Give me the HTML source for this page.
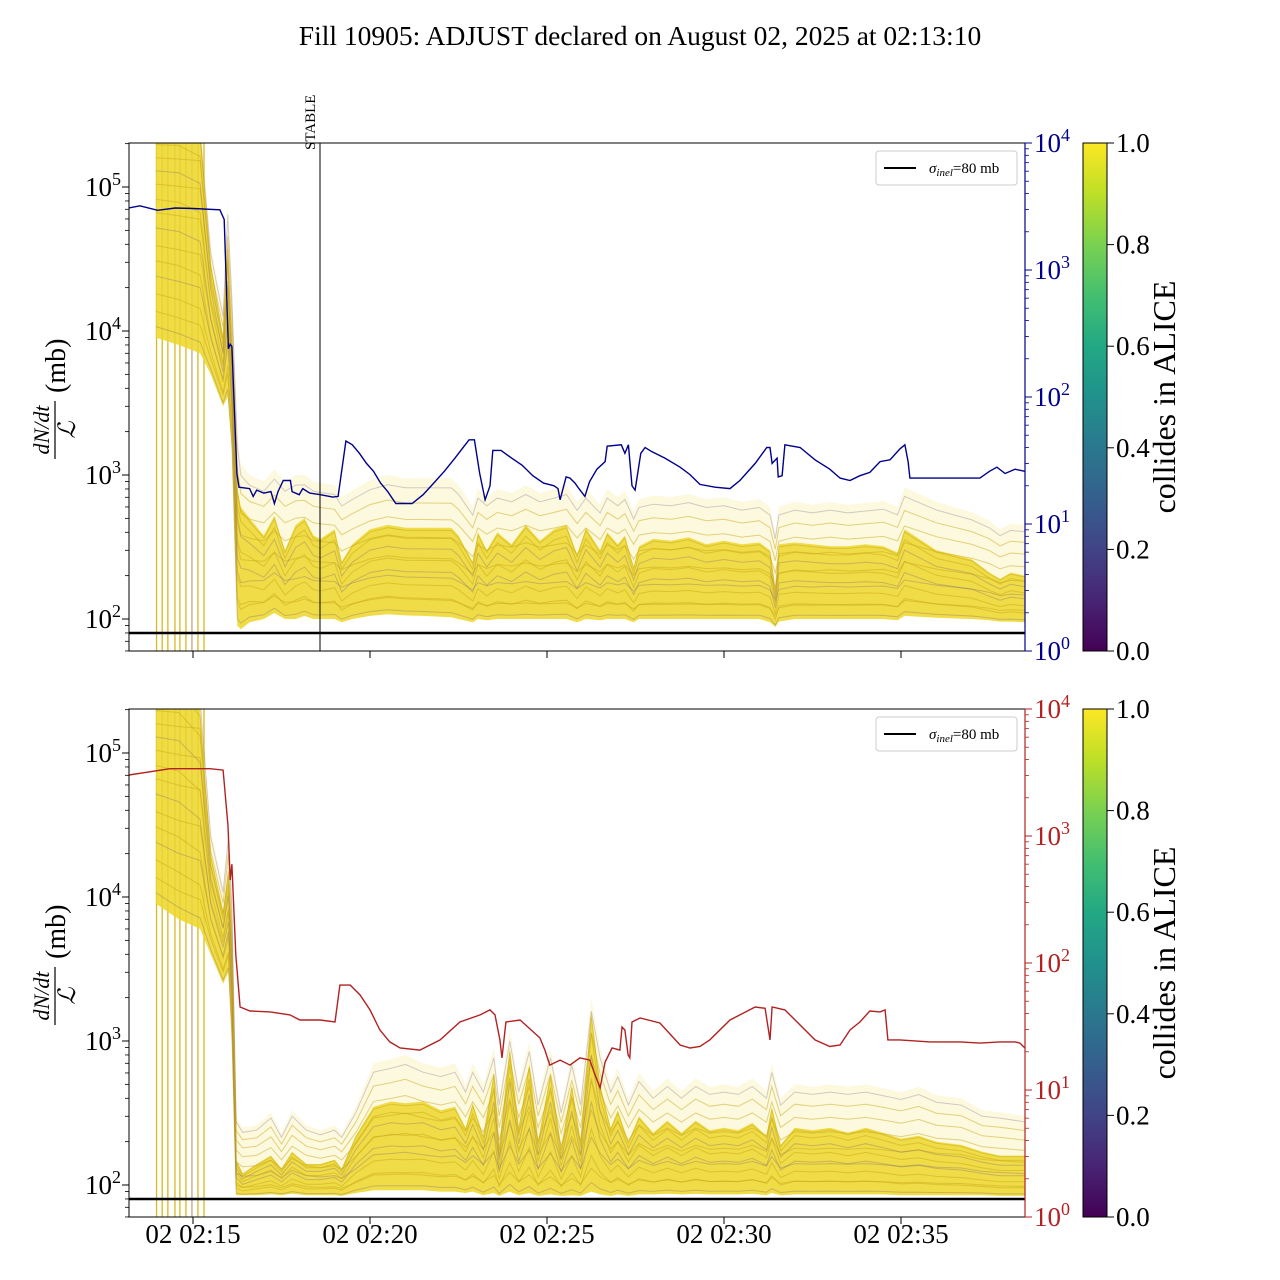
<!DOCTYPE html>
<html><head><meta charset="utf-8"><style>
body{margin:0;background:#fff}
svg{display:block;font-family:"Liberation Serif","DejaVu Serif",serif}
</style></head><body>
<svg id="chart" width="1280" height="1280" viewBox="0 0 1280 1280" xmlns="http://www.w3.org/2000/svg">
<defs>
<linearGradient id="viridis" x1="0" y1="1" x2="0" y2="0">
<stop offset="0" stop-color="#440154"/><stop offset="0.1" stop-color="#482475"/><stop offset="0.2" stop-color="#414487"/><stop offset="0.3" stop-color="#355f8d"/><stop offset="0.4" stop-color="#2a788e"/><stop offset="0.5" stop-color="#21918c"/><stop offset="0.6" stop-color="#22a884"/><stop offset="0.7" stop-color="#44bf70"/><stop offset="0.8" stop-color="#7ad151"/><stop offset="0.9" stop-color="#bddf26"/><stop offset="1" stop-color="#fde725"/>
</linearGradient>
<clipPath id="clipTop"><rect x="129" y="143" width="896" height="508"/></clipPath>
<clipPath id="clipBot"><rect x="129" y="709" width="896" height="508"/></clipPath>
</defs>
<text x="640" y="45" font-size="27.5" text-anchor="middle">Fill 10905: ADJUST declared on August 02, 2025 at 02:13:10</text>
<g id="layer"></g>
</svg>
<script>
// ---- data: times in minutes after 02:00 ----
const startTimes = [13.97,14.13,14.29,14.49,14.63,14.80,14.97,15.14,15.31];
// top panel bundle envelopes (mb)
const topT = [13.95,14.6,15.2,15.5,15.85,15.98,16.1,16.25,16.35,16.6,17.0,17.3,17.6,17.9,18.15,18.4,18.6,19.0,19.2,19.5,20.0,20.5,21.0,21.5,22.3,22.5,22.9,23.05,23.3,23.6,24.0,24.4,24.8,25.2,25.55,25.85,26.1,26.5,26.7,27.0,27.2,27.45,27.6,28.0,28.5,29.0,29.5,30.0,30.5,31.0,31.3,31.45,31.55,32.0,32.5,33.0,33.5,34.0,34.5,34.9,35.1,36.0,37.0,37.5,37.8,38.1,38.5];
const topOuter = [3e5,3e5,3e5,40000,14000,80000,20000,2000,1200,1000,900,1100,900,1000,1000,900,880,850,700,780,920,1000,950,950,950,850,600,800,700,800,750,850,750,800,850,650,800,620,800,700,780,560,680,720,700,740,680,700,650,680,600,400,600,650,620,650,620,640,660,600,820,650,550,480,420,460,450];
const topMain = [3e5,3e5,2.5e5,30000,9000,40000,8000,800,600,500,380,520,300,450,500,380,360,420,250,330,420,450,430,430,430,380,250,400,300,400,330,450,350,420,450,280,430,300,400,330,380,230,320,360,350,370,330,350,330,340,300,160,330,340,330,320,320,330,320,290,420,300,260,210,190,210,200];
const topLow = [9000,8000,7000,5000,3000,3500,1500,90,85,95,100,110,100,100,105,100,100,100,95,100,105,108,106,105,103,100,95,100,98,100,100,100,100,100,100,95,100,98,100,100,100,95,100,100,100,100,100,100,100,100,95,88,96,100,100,100,100,100,100,98,105,102,100,98,96,96,95];
// bottom panel bundle envelopes (mb)
const botT = [13.95,14.6,15.2,15.5,15.85,16.0,16.1,16.22,16.4,16.8,17.2,17.5,17.8,18.2,18.6,19.0,19.2,19.6,20.1,20.6,21.0,21.5,22.0,22.4,22.7,22.9,23.2,23.5,23.65,23.95,24.2,24.5,24.75,25.1,25.4,25.7,25.95,26.25,26.5,26.8,27.0,27.3,27.6,28.0,28.4,28.8,29.2,29.6,30.0,30.4,30.8,31.2,31.35,31.6,32.0,32.5,33.0,33.5,34.0,34.5,35.0,35.5,36.0,36.7,37.3,37.8,38.5];
const botOuter = [3e5,3e5,3e5,30000,12000,30000,10000,300,250,260,320,230,330,260,240,260,230,350,700,750,800,700,650,700,500,700,500,900,400,1200,500,1000,400,900,350,800,400,2000,900,500,650,400,600,450,550,450,550,480,500,480,550,450,700,400,500,480,500,480,500,470,440,480,420,400,330,320,300];
const botMain = [3e5,3e5,2e5,20000,8000,15000,5000,150,120,140,160,130,170,140,140,150,130,220,350,380,370,380,330,350,250,370,220,600,180,900,250,700,200,600,180,500,200,1600,500,250,330,200,300,230,280,230,280,240,250,240,270,220,350,190,250,240,250,230,250,230,210,220,200,190,170,160,160];
const botLow = [9000,7000,6000,4000,2500,3000,1000,85,85,85,86,85,87,85,85,85,84,88,92,92,92,92,90,90,88,90,85,88,84,90,85,88,84,86,84,85,84,90,86,84,86,84,86,86,87,86,87,86,86,86,87,85,88,85,86,86,86,86,86,86,85,85,85,85,85,84,84];
// blue line (top panel, right axis)
const blueT = [13.19,13.5,14.0,14.5,15.0,15.76,15.88,16.0,16.05,16.1,16.24,16.3,16.6,16.7,16.8,17.0,17.2,17.3,17.4,17.55,17.75,17.8,18.0,18.1,18.3,18.6,18.95,19.1,19.32,19.5,19.7,19.9,20.1,20.3,20.5,20.73,21.19,21.5,21.8,22.1,22.4,22.6,22.8,22.95,23.1,23.25,23.39,23.47,23.7,24.0,24.3,24.6,24.9,25.2,25.31,25.37,25.54,25.65,25.79,25.9,26.07,26.2,26.41,26.64,26.7,27.1,27.2,27.3,27.4,27.49,27.65,27.77,27.97,28.33,28.76,29.04,29.32,29.75,30.17,30.45,30.88,31.21,31.3,31.36,31.5,31.53,31.64,31.72,32.15,32.57,32.99,33.28,33.56,33.84,34.12,34.41,34.69,34.97,35.11,35.2,35.25,35.82,37.23,37.5,37.71,37.94,38.22,38.5];
const blueV = [3080,3200,2950,3080,3050,2980,2500,240,260,250,25,19.5,19,16.5,18.5,17.5,18,14.5,18,22,22,18,17,19,17.5,17,16.3,16.5,45,42,36,30,26,21,18,14.5,14.5,17,21,26,33,39,46,46,25,15.5,20,38,38,33,29,24,21,20,19,15.5,23.5,23,21,19,16.5,21.5,27,31,41,42,36,42,20,18.5,36,40,37,33,28,24.5,20.5,19.5,19,22,30,40,40,30,33,23.5,24,42,40,32,27,23,22,24,25.5,31,32,39,42,31,23,23,23,26,28,25,27,26];
// red line (bottom panel, right axis)
const redT = [13.19,14.35,15.48,15.85,15.99,16.05,16.10,16.21,16.33,16.61,17.18,17.74,18.02,18.59,19.01,19.15,19.44,19.72,20.0,20.28,20.56,20.85,21.41,21.98,22.54,23.11,23.39,23.53,23.67,23.73,23.84,24.24,24.80,24.94,25.08,25.37,25.65,25.93,26.21,26.36,26.50,26.64,26.84,27.06,27.12,27.20,27.29,27.34,27.40,27.63,28.19,28.76,29.04,29.32,29.60,30.17,30.45,30.88,31.16,31.30,31.36,31.72,32.15,32.57,32.99,33.28,33.56,33.84,34.12,34.41,34.55,34.63,34.97,35.82,36.67,37.23,37.80,38.22,38.36,38.5];
const redV = [3020,3390,3390,3300,1200,450,600,116,45,41.9,41.2,39,35.6,35.6,34.3,67,67,56,42.7,29.7,23.9,21.4,20.6,24.8,34.3,39,42.7,39,24.8,17.9,34.3,35.6,25.7,20.6,15.7,17.2,15.7,17.9,17.2,13.1,10.4,16.6,21.4,20.6,31.3,29.7,18.9,17.9,34.3,36.9,33.7,22.6,21.4,22,24.8,35.6,39,45,44,24.8,45,42.7,32.5,24.8,22,22.6,29.7,34.3,41.9,41.2,42.7,24.8,24.8,23.9,23.9,23.4,23.9,23.9,23.4,21.4];
// bundle trace fractions (position within envelope) and colour class
const traceFrac = [0.05,0.12,0.2,0.28,0.35,0.42,0.5,0.57,0.63,0.7,0.76,0.82,0.88,0.93,0.97];
const traceKind = [1,0,0,1,0,0,1,0,0,0,1,0,0,1,0];
const xTickTimes = [15,20,25,30,35];
const xTickLabels = ["02 02:15","02 02:20","02 02:25","02 02:30","02 02:35"];
const cbTicks = [0,0.2,0.4,0.6,0.8,1.0];

const NS = "http://www.w3.org/2000/svg";
const layer = document.getElementById('layer');
function mk(tag, attrs, parent){const e=document.createElementNS(NS,tag);for(const k in attrs)e.setAttribute(k,attrs[k]);(parent||layer).appendChild(e);return e;}
const X0=129,X1=1025;
function xS(t){return 193+(t-15)*35.4;}
const panels=[{top:143,bot:651,clip:'clipTop',name:'top'},{top:709,bot:1217,clip:'clipBot',name:'bottom'}];
function yL(p,v){return p.bot-32-144*(Math.log10(v)-2);}
function yR(p,v){return p.bot-127*Math.log10(v);}

function bandPath(p,T,hi,lo){
  let d='';
  for(let i=0;i<T.length;i++)d+=(i?'L':'M')+xS(T[i]).toFixed(1)+','+yL(p,hi[i]).toFixed(1);
  for(let i=T.length-1;i>=0;i--)d+='L'+xS(T[i]).toFixed(1)+','+yL(p,lo[i]).toFixed(1);
  return d+'Z';
}
function drawPanel(p,T,outer,main,low,lT,lV,lColor){
  const g=mk('g',{'clip-path':'url(#'+p.clip+')'});
  
  
  startTimes.forEach((t,i)=>{
    const l=mk('line',{x1:xS(t),x2:xS(t),y1:p.top,y2:p.bot,stroke:i==6?'#b9a98a':'#d9b820','stroke-width':1.3},g);
    
    
  });
  const o=mk('path',{d:bandPath(p,T,outer,low),fill:'#f4e67a','fill-opacity':0.25},g);
  
  
  const m=mk('path',{d:bandPath(p,T,main,low),fill:'#ecd526','fill-opacity':0.82},g);
  
  
  traceFrac.forEach((f,k)=>{
    let d='';
    for(let i=0;i<T.length;i++){
      const top=(k%2)?outer[i]:main[i];
      const v=Math.exp(Math.log(low[i])+f*(Math.log(top)-Math.log(low[i])));
      d+=(i?'L':'M')+xS(T[i]).toFixed(1)+','+yL(p,v).toFixed(1);
    }
    const tr=mk('path',{d:d,fill:'none',stroke:traceKind[k]?'#6a4a78':'#c9a818','stroke-opacity':traceKind[k]?0.28:0.5,'stroke-width':1},g);
    
    
  });
  const fl=mk('line',{x1:X0,x2:X1,y1:yL(p,80),y2:yL(p,80),stroke:'#000','stroke-width':2.5},g);
  
  
  let d='';
  for(let i=0;i<lT.length;i++)d+=(i?'L':'M')+xS(lT[i]).toFixed(1)+','+yR(p,lV[i]).toFixed(1);
  const ln=mk('path',{d:d,fill:'none',stroke:lColor,'stroke-width':1.4},g);
  
  
}
drawPanel(panels[0],topT,topOuter,topMain,topLow,blueT,blueV,'#00008b');
drawPanel(panels[1],botT,botOuter,botMain,botLow,redT,redV,'#b22222');

const sl=mk('line',{x1:320,x2:320,y1:143,y2:651,stroke:'#000','stroke-width':1});


const st=mk('text',{x:0,y:0,'font-size':15,transform:'translate(315,150) rotate(-90)'});
st.textContent='STABLE';



function pow(parent,x,y,exp,anchor,color,size){
  const t=mk('text',{x:x,y:y,'font-size':size||27,'text-anchor':anchor,fill:color},parent);
  t.appendChild(document.createTextNode('10'));
  const s=mk('tspan',{dy:-11,'font-size':18},t);s.textContent=exp;
  return t;
}
panels.forEach((p,pi)=>{
  const ax=mk('g',{});
  
  
  const rc=pi?'#b22222':'#00008b';
  mk('rect',{x:X0,y:p.top,width:X1-X0,height:p.bot-p.top,fill:'none',stroke:'#000','stroke-width':1},ax);
  mk('line',{x1:X1,x2:X1,y1:p.top,y2:p.bot,stroke:rc,'stroke-width':1.2},ax);
  for(let dcd=1;dcd<=5;dcd++){
    for(let k=1;k<=9;k++){
      const v=k*Math.pow(10,dcd);const y=yL(p,v);
      if(y<p.top||y>p.bot)continue;
      mk('line',{x1:X0,x2:X0-(k==1?7:4),y1:y,y2:y,stroke:'#000','stroke-width':k==1?1:0.8},ax);
      if(k==1&&dcd>=2){const t=pow(ax,121,y+9,String(dcd),'end','#000');
        
        }
    }
  }
  for(let dcd=0;dcd<=4;dcd++){
    for(let k=1;k<=9;k++){
      const v=k*Math.pow(10,dcd);const y=yR(p,v);
      if(y<p.top-0.5||y>p.bot+0.5)continue;
      mk('line',{x1:X1,x2:X1+(k==1?7:4),y1:y,y2:y,stroke:rc,'stroke-width':k==1?1:0.8},ax);
      if(k==1){const t=pow(ax,1034,y+9,String(dcd),'start',rc);
        
        }
    }
  }
  xTickTimes.forEach((t,i)=>{
    mk('line',{x1:xS(t),x2:xS(t),y1:p.bot,y2:p.bot+7,stroke:'#000'},ax);
    if(pi==1){const tx=mk('text',{x:xS(t),y:1243,'font-size':27,'text-anchor':'middle'},ax);tx.textContent=xTickLabels[i];
      
      }
  });
  const cy=(p.top+p.bot)/2;
  const yl=mk('g',{transform:'translate(55,'+cy+') rotate(-90)'});
  
  
  const n=mk('text',{x:-33,y:-6,'font-size':22,'font-style':'italic','text-anchor':'middle'},yl);n.textContent='dN/dt';
  mk('line',{x1:-62,x2:-4,y1:0,y2:0,stroke:'#000','stroke-width':1.2},yl);
  const dn=mk('text',{x:-33,y:20,'font-size':24,'font-style':'italic','text-anchor':'middle'},yl);dn.textContent='ℒ';
  const mb=mk('text',{x:4,y:10,'font-size':28},yl);mb.textContent='(mb)';
  const lg=mk('g',{});
  
  
  mk('rect',{x:876,y:p.top+8,width:141,height:34,rx:3,fill:'#fff',stroke:'#ccc'},lg);
  mk('line',{x1:884,x2:916,y1:p.top+25,y2:p.top+25,stroke:'#000','stroke-width':2},lg);
  const lt=mk('text',{x:929,y:p.top+30,'font-size':15},lg);
  const s1=mk('tspan',{'font-style':'italic'},lt);s1.textContent='σ';
  const s2=mk('tspan',{'font-style':'italic','font-size':11,dy:3},lt);s2.textContent='inel';
  const s3=mk('tspan',{dy:-3},lt);s3.textContent='=80 mb';
  const cb=mk('g',{});
  
  
  mk('rect',{x:1083,y:p.top,width:24,height:508,fill:'url(#viridis)',stroke:'#000','stroke-width':1},cb);
  cbTicks.forEach(v=>{
    const y=p.bot-v*508;
    mk('line',{x1:1107,x2:1114,y1:y,y2:y,stroke:'#000'},cb);
    const t=mk('text',{x:1116,y:y+9,'font-size':27},cb);t.textContent=v.toFixed(1);
    
    
  });
  const cl=mk('text',{x:0,y:0,'font-size':32,'text-anchor':'middle',transform:'translate(1175,'+cy+') rotate(-90)'},cb);
  cl.textContent='collides in ALICE';
  
  
});
</script>
</body></html>
